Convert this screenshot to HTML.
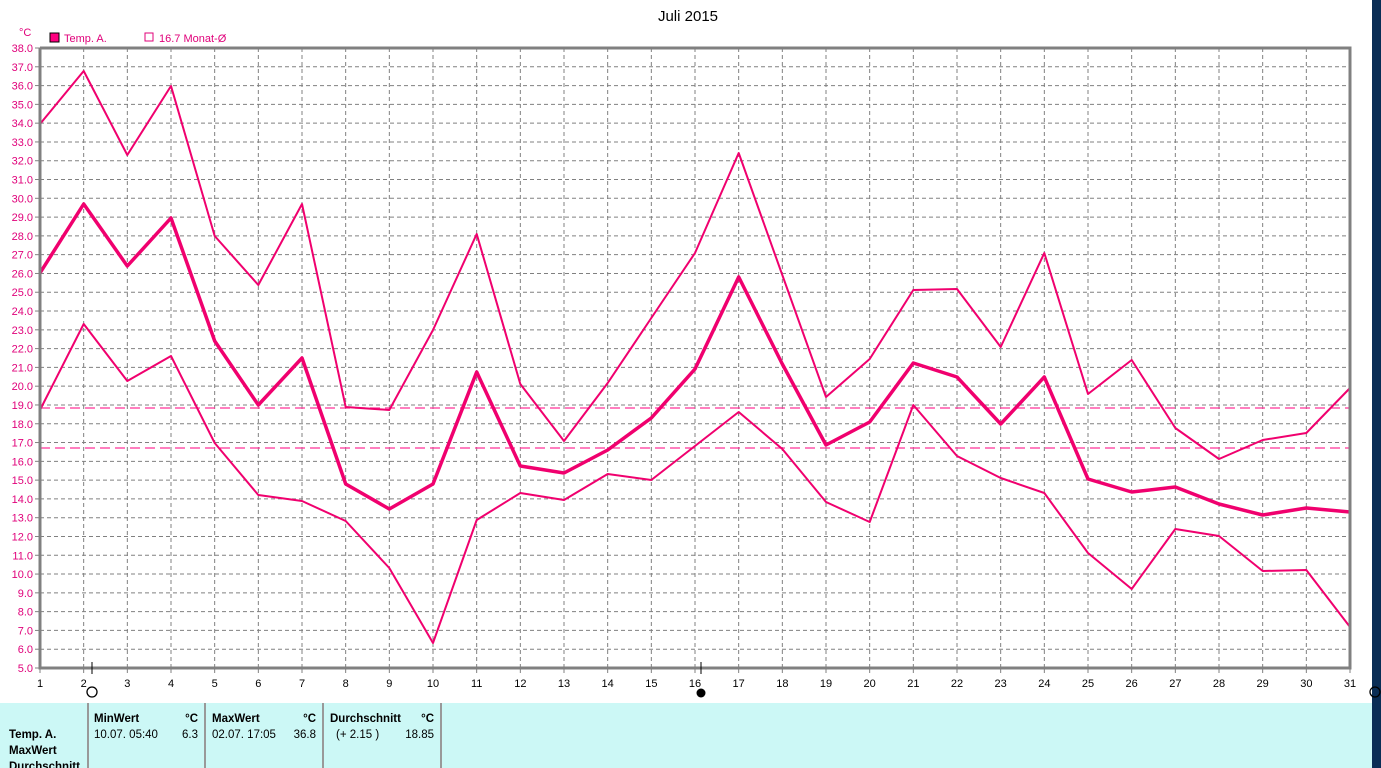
<!DOCTYPE html>
<html><head><meta charset="utf-8"><style>
body{margin:0;width:1381px;height:768px;overflow:hidden;background:#fff;font-family:"Liberation Sans",sans-serif;}
svg{position:absolute;left:0;top:0}
</style></head><body>
<svg id="s" width="1381" height="768" xmlns="http://www.w3.org/2000/svg" font-family="Liberation Sans, sans-serif">
<rect x="1372" y="0" width="9" height="768" fill="#0a2d55"/>
<rect x="0" y="703" width="1372" height="65" fill="#ccf8f6"/>
<g stroke="#999" stroke-width="2"><line x1="88" y1="703" x2="88" y2="768"/><line x1="205" y1="703" x2="205" y2="768"/><line x1="323" y1="703" x2="323" y2="768"/><line x1="441" y1="703" x2="441" y2="768"/></g>
<text x="688" y="21" font-size="15" text-anchor="middle" fill="#000">Juli 2015</text>
<text x="19" y="36" font-size="11" fill="#e0007a">°C</text>
<rect x="50" y="33" width="9" height="9" fill="#ff0080" stroke="#000"/>
<text x="64" y="42" font-size="11" fill="#e0007a">Temp. A.</text>
<rect x="145" y="33" width="8" height="8" fill="none" stroke="#e0007a"/>
<text x="159" y="42" font-size="11" fill="#e0007a">16.7 Monat-Ø</text>
<g id="grid"></g>
<line x1="40" y1="408" x2="1350" y2="408" stroke="#ff3399" stroke-width="1.3" stroke-dasharray="10,5"/>
<line x1="40" y1="448" x2="1350" y2="448" stroke="#ff3399" stroke-width="1.3" stroke-dasharray="10,5"/>
<g fill="none" stroke="#f0006e" stroke-linejoin="round">
<polyline stroke-width="2" points="40,124 83.7,71 127.3,155 171,86 214.7,236 258.3,285 302,204 345.7,407 389.3,410 433,330 476.7,234 520.3,384 564,441 607.7,383 651.3,318 695,253 738.7,153 782.3,275 826,397 869.7,359 913.3,290 957,289 1000.7,347 1044.3,253 1088,394 1131.7,360 1175.3,428 1219,459 1262.7,440 1306.3,433 1350,388"/>
<polyline stroke-width="3.5" points="40,273 83.7,204 127.3,266 171,218 214.7,341 258.3,405 302,358 345.7,484 389.3,509 433,484 476.7,372 520.3,466 564,473 607.7,450 651.3,418 695,369 738.7,277 782.3,364 826,445 869.7,422 913.3,363 957,377 1000.7,424 1044.3,377 1088,479 1131.7,492 1175.3,487 1219,504 1262.7,515 1306.3,508 1350,512"/>
<polyline stroke-width="2" points="40,410 83.7,324 127.3,381 171,356 214.7,443 258.3,495 302,501 345.7,521 389.3,568 433,643 476.7,520 520.3,493 564,500 607.7,474 651.3,480 695,446 738.7,412 782.3,449 826,502 869.7,522 913.3,405 957,456 1000.7,478 1044.3,493 1088,553 1131.7,589 1175.3,529 1219,536 1262.7,571 1306.3,570 1350,627"/>
</g>
<g stroke="#808080" stroke-width="3" fill="none"><polyline points="40,48 1350,48 1350,668 40,668 40,48"/></g>
<line x1="92" y1="662" x2="92" y2="674" stroke="#000"/>
<line x1="701" y1="662" x2="701" y2="674" stroke="#000"/>
<circle cx="92" cy="692" r="5" fill="none" stroke="#000" stroke-width="1.3"/>
<circle cx="701" cy="693" r="4.5" fill="#000"/>
<circle cx="1375" cy="692" r="5" fill="none" stroke="#000" stroke-width="1.3"/>
<g font-size="11.5" fill="#000">
<text x="9" y="738" font-weight="bold">Temp. A.</text>
<text x="9" y="754" font-weight="bold">MaxWert</text>
<text x="9" y="770" font-weight="bold">Durchschnitt</text>
<text x="94" y="722" font-weight="bold">MinWert</text><text x="198" y="722" font-weight="bold" text-anchor="end">°C</text>
<text x="94" y="738">10.07.  05:40</text><text x="198" y="738" text-anchor="end">6.3</text>
<text x="212" y="722" font-weight="bold">MaxWert</text><text x="316" y="722" font-weight="bold" text-anchor="end">°C</text>
<text x="212" y="738">02.07.  17:05</text><text x="316" y="738" text-anchor="end">36.8</text>
<text x="330" y="722" font-weight="bold">Durchschnitt</text><text x="434" y="722" font-weight="bold" text-anchor="end">°C</text>
<text x="336" y="738">(+ 2.15 )</text><text x="434" y="738" text-anchor="end">18.85</text>
</g>
</svg>
<script>
var g=document.getElementById('grid'),ns='http://www.w3.org/2000/svg',h='';
for(var v=5;v<=38;v++){var y=668-(v-5)*620/33;
if(v>5&&v<38)h+='<line x1="40" y1="'+y+'" x2="1350" y2="'+y+'" stroke="#808080" stroke-dasharray="4,3"/>';
h+='<line x1="35" y1="'+y+'" x2="40" y2="'+y+'" stroke="#808080"/>';
h+='<text x="33" y="'+(y+4)+'" font-size="11" text-anchor="end" fill="#e0007a">'+v.toFixed(1)+'</text>';}
for(var d=1;d<=31;d++){var x=40+(d-1)*1310/30;
if(d>1&&d<31)h+='<line x1="'+x+'" y1="48" x2="'+x+'" y2="668" stroke="#808080" stroke-dasharray="4,3"/>';
h+='<line x1="'+x+'" y1="668" x2="'+x+'" y2="673" stroke="#808080"/>';
h+='<text x="'+x+'" y="687" font-size="11" text-anchor="middle" fill="#000">'+d+'</text>';}
g.innerHTML=h;
</script>
</body></html>
